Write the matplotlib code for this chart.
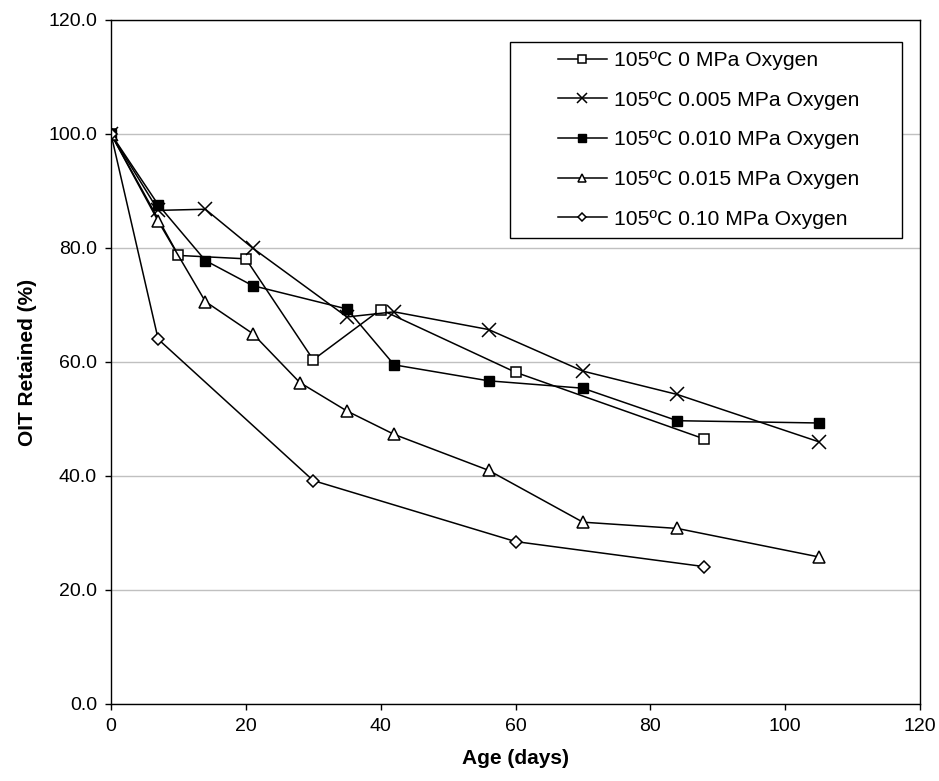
import matplotlib.pyplot as plt
from matplotlib.patches import Rectangle

plt.rcParams['font.family'] = ['Liberation Sans', 'DejaVu Sans']

# OIT retained vs. ageing time at 105 C for several oxygen pressures
days_0 = [0, 10, 20, 30, 40, 60, 88]
oit_0 = [100.0, 78.7, 78.1, 60.4, 69.2, 58.2, 46.5]

days_005 = [0, 7, 14, 21, 35, 42, 56, 70, 84, 105]
oit_005 = [100.0, 86.6, 86.8, 80.0, 67.9, 68.8, 65.7, 58.4, 54.3, 46.0]

days_010 = [0, 7, 14, 21, 35, 42, 56, 70, 84, 105]
oit_010 = [100.0, 87.6, 77.8, 73.4, 69.3, 59.5, 56.7, 55.4, 49.7, 49.3]

days_015 = [0, 7, 14, 21, 28, 35, 42, 56, 70, 84, 105]
oit_015 = [100.0, 84.7, 70.6, 65.0, 56.4, 51.4, 47.3, 41.0, 31.9, 30.8, 25.8]

days_10 = [0, 7, 30, 60, 88]
oit_10 = [100.0, 64.0, 39.2, 28.5, 24.1]

labels = ['105ºC 0 MPa Oxygen', '105ºC 0.005 MPa Oxygen', '105ºC 0.010 MPa Oxygen',
          '105ºC 0.015 MPa Oxygen', '105ºC 0.10 MPa Oxygen']
xticks = [0, 20, 40, 60, 80, 100, 120]
yticks = [0, 20, 40, 60, 80, 100, 120]

fig = plt.figure(figsize=(9.39, 7.81), dpi=100)
ax = fig.add_axes([111 / 939, 1 - 704 / 781, 809 / 939, 684 / 781])

ax.plot(days_0, oit_0, '-s', color='black', lw=1.1, ms=7, mfc='white', mec='black', mew=1.1, label=labels[0])
ax.plot(days_005, oit_005, '-x', color='black', lw=1.1, ms=10, mew=1.1, label=labels[1])
ax.plot(days_010, oit_010, '-s', color='black', lw=1.1, ms=7.5, mfc='black', label=labels[2])
ax.plot(days_015, oit_015, '-^', color='black', lw=1.1, ms=8.5, mfc='white', mec='black', mew=1.1, label=labels[3])
ax.plot(days_10, oit_10, '-D', color='black', lw=1.1, ms=6, mfc='white', mec='black', mew=1.1, label=labels[4])

ax.set_xlim(0, 120)
ax.set_ylim(0, 120)
ax.set_xticks(xticks)
ax.set_yticks(yticks)
ax.set_yticklabels(['%.1f' % v for v in yticks])
ax.tick_params(labelsize=14, direction='out', length=4, width=1, color='black')
ax.tick_params(axis='y', pad=6)
ax.tick_params(axis='x', pad=6)
ax.yaxis.grid(True, color='#c0c0c0', lw=1)
ax.set_axisbelow(True)
for sp in ax.spines.values():
    sp.set_color('black')
    sp.set_linewidth(1)

ax.set_xlabel('Age (days)', fontsize=15, fontweight='bold', labelpad=10)
ax.set_ylabel('OIT Retained (%)', fontsize=15, fontweight='bold', labelpad=8)

# legend box drawn separately so its padding can be set freely
leg = ax.legend(loc='upper left', bbox_to_anchor=((558 - 111) / 809, (704 - 51) / 684),
                frameon=False, fontsize=15.2, handlelength=2.3, handletextpad=0.35,
                labelspacing=0.98, borderaxespad=0, borderpad=0, markerscale=0.75)
box = Rectangle(((510 - 111) / 809, (704 - 238) / 684), 392 / 809, 196 / 684,
                transform=ax.transAxes, fill=True, facecolor='white', edgecolor='black',
                lw=1, zorder=4)
ax.add_patch(box)
leg.set_zorder(5)

fig.savefig('out.png', dpi=100)
